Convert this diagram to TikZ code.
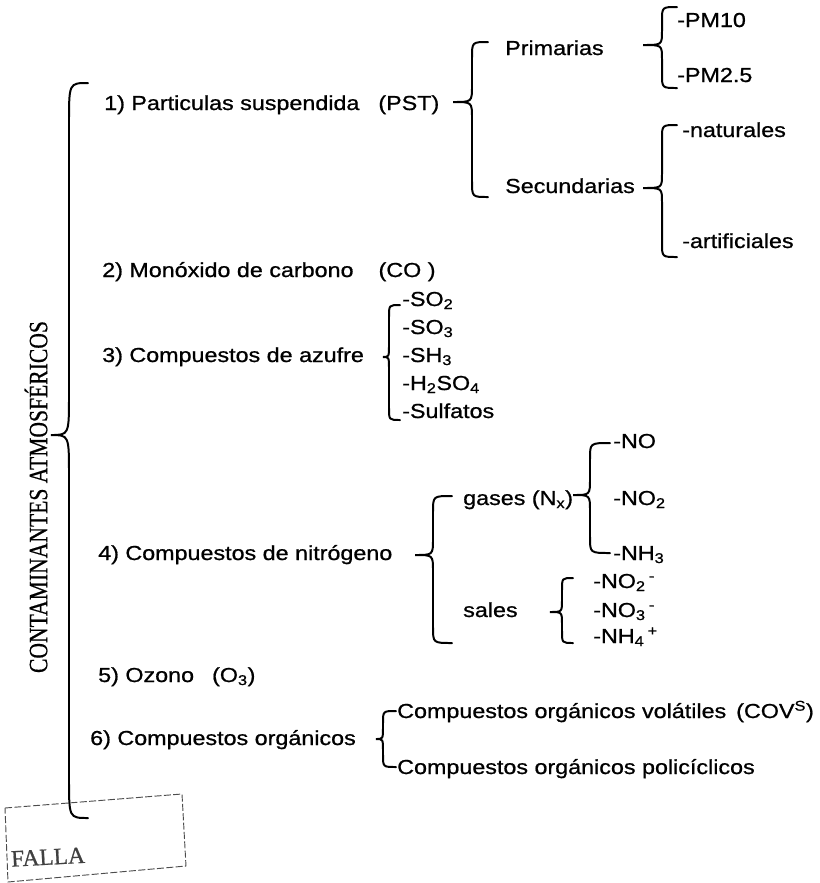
\documentclass[tikz,border=0pt]{standalone}
\usepackage{fontspec}
\setmainfont[FakeStretch=1.15, FakeBold=0.8]{Liberation Sans}
\newfontfamily\titulo[FakeStretch=0.82, FakeBold=0.6]{Liberation Serif}
\newfontfamily\sello[FakeBold=0.8]{Liberation Serif}
\usepackage{tikz}

\tikzset{
  txt/.style={anchor=base west, inner sep=0pt, font=\fontsize{17.3}{20}\selectfont},
  llave/.style={line width=1.7pt, line cap=round}
}

% llave: cusp x, cusp y, vertical x, end x, top y, bottom y, radius
\newcommand{\llave}[7]{%
  \draw[llave] (#4,#5) .. controls (#3,#5) .. (#3,{#5+#7})
    -- (#3,{#2-#7}) .. controls (#3,#2) .. (#1,#2)
    .. controls (#3,#2) .. (#3,{#2+#7})
    -- (#3,{#6-#7}) .. controls (#3,#6) .. (#4,#6);}

\begin{document}
\begin{tikzpicture}[x=0.03cm, y=-0.03cm]
        \useasboundingbox (0,0) rectangle (820,883);

        \node[rotate=90, inner sep=0pt, font=\titulo\fontsize{22.5}{24}\selectfont] (titulo) at (36,497) {CONTAMINANTES ATMOSFÉRICOS};
        \llave{51}{435}{69}{88}{83}{818}{40}

        % 1) particulas
        \node[txt] (pst) at (104,110) {1) Particulas suspendida\hspace{0.57cm}(PST)};
        \llave{453}{102}{472}{488}{42}{197}{16}
        \node[txt] (prim) at (505,55) {Primarias};
        \node[txt] (sec) at (505,193) {Secundarias};
        \llave{643}{45}{662}{677}{7}{88}{14}
        \node[txt] (pm10) at (677,27) {-PM10};
        \node[txt] (pm25) at (677,82) {-PM2.5};
        \llave{643}{188}{662}{677}{125}{257}{14}
        \node[txt] (nat) at (682,137) {-naturales};
        \node[txt] (art) at (682,248) {-artificiales};

        % 2) y 3)
        \node[txt] (co) at (102,277) {2) Monóxido de carbono\hspace{0.75cm}(CO )};
        \node[txt] (azufre) at (102,362) {3) Compuestos de azufre};
        \llave{383}{357}{389}{400}{305}{420}{12}
        \node[txt] (so2) at (402,306) {-SO\textsubscript{2}};
        \node[txt] (so3) at (402,334) {-SO\textsubscript{3}};
        \node[txt] (sh3) at (402,362) {-SH\textsubscript{3}};
        \node[txt] (h2so4) at (402,390) {-H\textsubscript{2}SO\textsubscript{4}};
        \node[txt] (sulf) at (402,418) {-Sulfatos};

        % 4) nitrogeno
        \node[txt] (nitro) at (98,560) {4) Compuestos de nitrógeno};
        \llave{415}{555}{433}{452}{496}{643}{16}
        \node[txt] (gases) at (463,505) {gases (N\textsubscript{x})};
        \llave{573}{495}{590}{610}{443}{553}{16}
        \node[txt] (no) at (613,448) {-NO};
        \node[txt] (no2) at (613,505) {-NO\textsubscript{2}};
        \node[txt] (nh3) at (613,560) {-NH\textsubscript{3}};
        \node[txt] (sales) at (463,617) {sales};
        \llave{550}{612}{562}{573}{578}{643}{12}
        \node[txt] (no2m) at (593,588) {-NO\textsubscript{2}\,\textsuperscript{-}};
        \node[txt] (no3m) at (593,617) {-NO\textsubscript{3}\,\textsuperscript{-}};
        \node[txt] (nh4p) at (593,643) {-NH\textsubscript{4}\,\textsuperscript{+}};

        % 5) y 6)
        \node[txt] (ozono) at (98,682) {5) Ozono\hspace{0.54cm}(O\textsubscript{3})};
        \node[txt] (organ) at (90,745) {6) Compuestos orgánicos};
        \llave{376}{739}{383}{396}{711}{767}{12}
        \node[txt] (cov) at (397,718) {Compuestos orgánicos volátiles\hspace{0.3cm}(COV\textsuperscript{S})};
        \node[txt] (poli) at (397,774) {Compuestos orgánicos policíclicos};

        % sello
        \draw[dash pattern=on 6pt off 2pt, thick, black!70] (5,808) -- (182,794) -- (186,866) -- (8,882) -- cycle;
        \node[rotate=3, inner sep=0pt, text=black!75, font=\sello\fontsize{20}{22}\selectfont] (falla) at (48,857) {FALLA};
\end{tikzpicture}
\end{document}
